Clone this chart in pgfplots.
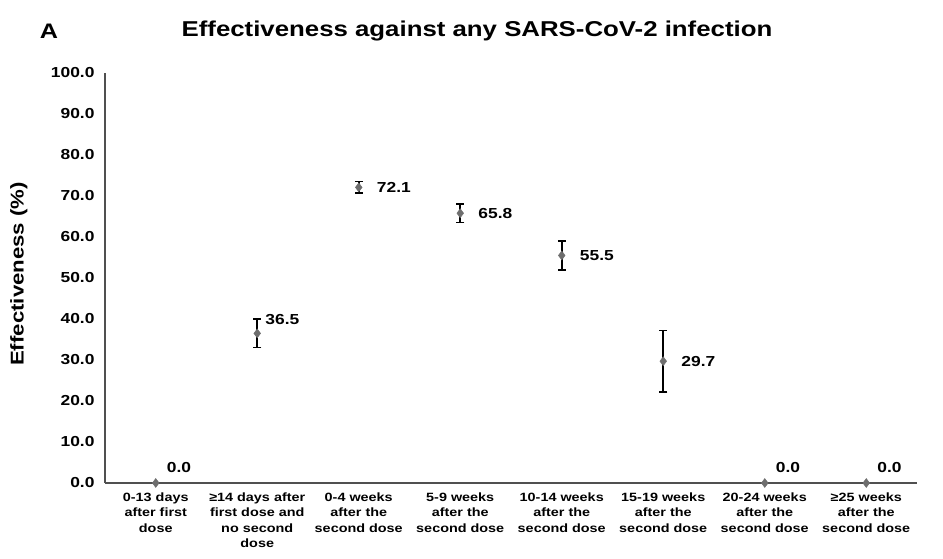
\documentclass[border=0pt]{standalone}
\usepackage{fontspec}
\setmainfont{Liberation Sans}[FakeStretch=1.2]
\usepackage{pgfplots}
\pgfplotsset{compat=1.18}
\definecolor{axgray}{RGB}{80,80,80}
\definecolor{mkgray}{RGB}{110,110,110}
\pgfplotsset{pt/.style={
    only marks, mark=diamond*, mark size=4.5pt,
    mark options={fill=mkgray, draw=mkgray},
    error bars/y dir=both, error bars/y explicit,
    error bars/error bar style={black, line width=1.7pt},
    error bars/error mark options={black, rotate=90, mark size=4pt, line width=1.6pt},
}}
\begin{document}
\begin{tikzpicture}
\path[use as bounding box] (-105pt,-76pt) rectangle (838pt,483pt);
\begin{axis}[
  at={(0,0)}, anchor=south west,
  scale only axis, width=812pt, height=410pt,
  xmin=-0.5, xmax=7.5, ymin=0, ymax=100,
  axis lines=left, axis line style={axgray, line width=1.3pt, -},
  ytick={0,10,...,100},
  yticklabel style={font=\fontsize{14.5}{15}\selectfont\bfseries, xshift=-7pt},
  /pgf/number format/assume math mode=true,
  yticklabel={\pgfmathprintnumber[fixed,fixed zerofill,precision=1]{\tick}},
  xtick={0,...,7},
  xticklabels={{0-13 days\\after first\\dose},{≥14 days after\\first dose and\\no second\\dose},{0-4 weeks\\after the\\second dose},{5-9 weeks\\after the\\second dose},{10-14 weeks\\after the\\second dose},{15-19 weeks\\after the\\second dose},{20-24 weeks\\after the\\second dose},{≥25 weeks\\after the\\second dose}},
  xticklabel style={align=center, font=\fontsize{12}{15.5}\selectfont\bfseries, yshift=-6pt},
  major tick length=0pt,
  ylabel={Effectiveness (\%)},
  ylabel style={font=\fontsize{18.5}{20}\selectfont\bfseries, at={(axis description cs:-0.106,0.51)}, anchor=center},
  clip=false,
  nodes near coords,
  nodes near coords style={font=\fontsize{14.5}{15}\selectfont\bfseries, inner sep=0pt},
  point meta=explicit symbolic,
]
\addplot[pt, nodes near coords style={anchor=west, xshift=18pt}] coordinates {
  (2,72.1) +- (0,1.4) [72.1]
  (3,65.8) +- (0,2.3) [65.8]
  (4,55.5) +- (0,3.5) [55.5]
  (5,29.7) +- (0,7.5) [29.7]
};
\addplot[pt, nodes near coords style={anchor=south west, xshift=8pt, yshift=8pt}] coordinates {
  (1,36.5) +- (0,3.5) [36.5]
};
\addplot[pt, nodes near coords style={anchor=south west, xshift=11pt, yshift=10pt}] coordinates {
  (0,0) [0.0]
  (6,0) [0.0]
  (7,0) [0.0]
};
\end{axis}
\node[font=\fontsize{21.5}{22}\selectfont\bfseries] at (372pt,452pt) {Effectiveness against any SARS-CoV-2 infection};
\node[font=\fontsize{21}{22}\selectfont\bfseries] at (-56pt,452pt) {A};
\end{tikzpicture}
\end{document}
